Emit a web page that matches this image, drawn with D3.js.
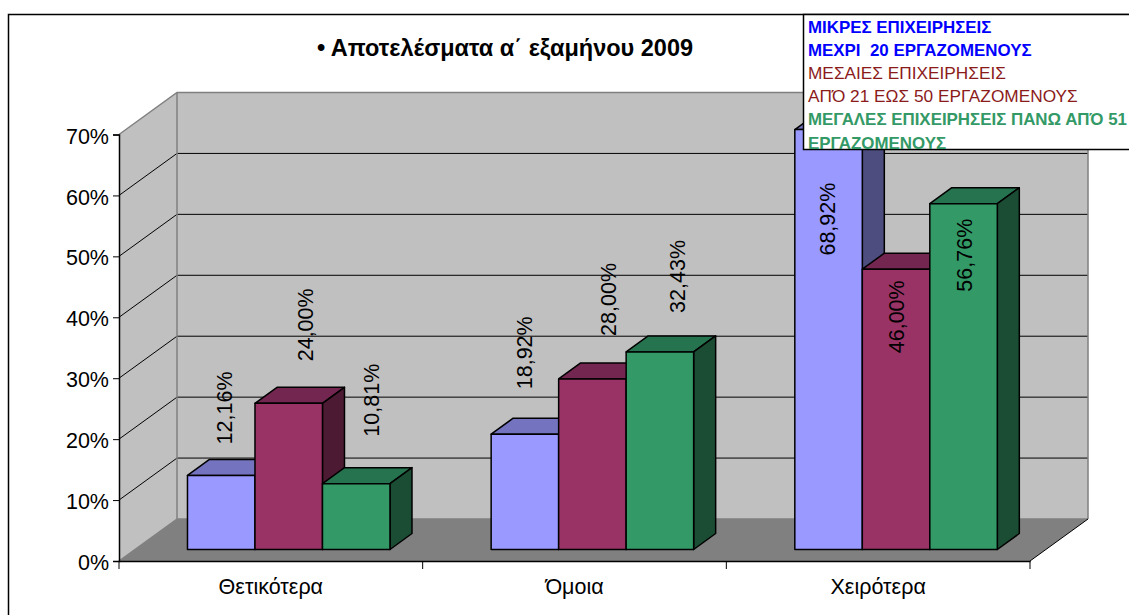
<!DOCTYPE html>
<html>
<head>
<meta charset="utf-8">
<script src="https://d3js.org/d3.v7.min.js"></script>
<style>
  html, body { margin: 0; padding: 0; background: #fff; }
  svg { display: block; }
  text { font-family: "Liberation Sans", Arial, sans-serif; fill: #000; }
</style>
</head>
<body>
<div id="chart"></div>
<script>
// data
var categories = ["Θετικότερα", "Όμοια", "Χειρότερα"];
var seriesNames = ["small", "medium", "large"];
var small = [12.16, 18.92, 68.92];
var medium = [24.00, 28.00, 46.00];
var large = [10.81, 32.43, 56.76];
var yTicks = [0, 10, 20, 30, 40, 50, 60, 70];
var chartTitle = "• Αποτελέσματα α΄ εξαμήνου 2009";
var legendLines = [
  "ΜΙΚΡΕΣ ΕΠΙΧΕΙΡΗΣΕΙΣ",
  "ΜΕΧΡΙ  20 ΕΡΓΑΖΟΜΕΝΟΥΣ",
  "ΜΕΣΑΙΕΣ ΕΠΙΧΕΙΡΗΣΕΙΣ",
  "ΑΠΌ 21 ΕΩΣ 50 ΕΡΓΑΖΟΜΕΝΟΥΣ",
  "ΜΕΓΑΛΕΣ ΕΠΙΧΕΙΡΗΣΕΙΣ ΠΑΝΩ ΑΠΌ 51",
  "ΕΡΓΑΖΟΜΕΝΟΥΣ"
];

// colours: front, top, side
var palette = {
  small: ["#9999ff", "#7373bf", "#4d4d80"],
  medium: ["#993366", "#732650", "#4d1a33"],
  large: ["#339966", "#267350", "#1a4d33"]
};
var legendStyle = [
  ["#0000ff", "bold"], ["#0000ff", "bold"],
  ["#8b1a1a", "normal"], ["#8b1a1a", "normal"],
  ["#339966", "bold"], ["#339966", "bold"]
];

var W = 1129, H = 615;
var depthX = 58, depthY = 42;     // floor depth
var barDX = 22, barDY = 16;       // bar depth
var barInsetY = 11.5;             // front of bars above the front floor edge
var barInsetX = 17.9;
var barW = 67.5;

// hand placed data labels in the original: dx from bar centre, gap above bar top
var labelNudge = [
  [[4, 31], [18, 42], [16, 47]],
  [[1, 45], [17, 43], [19, 39]],
  [[0, -126], [1, -84], [2, -88]]
];

var svg = d3.select("#chart").append("svg")
  .attr("width", W).attr("height", H);

// outer frame
svg.append("path")
  .attr("d", "M8.5," + H + "V14.5H" + W)
  .attr("fill", "none").attr("stroke", "#000").attr("stroke-width", 1.5);

var x = d3.scaleBand().domain(categories).range([119, 1030]);
var y = d3.scaleLinear().domain([0, 70]).range([561, 134.5]);
function barX(cat, s) {
  return x(cat) + barInsetX + (x.bandwidth() - 3 * barW) / 2 + seriesNames.indexOf(s) * barW;
}

var x0 = x.range()[0], x1 = x.range()[1];
var y0 = y(0), yTop = y(70);

// side wall
svg.append("polygon")
  .attr("points", [[x0, y0], [x0 + depthX, y0 - depthY], [x0 + depthX, yTop - depthY], [x0, yTop]].join(" "))
  .attr("fill", "#c0c0c0");
// back wall
svg.append("rect")
  .attr("x", x0 + depthX).attr("y", yTop - depthY)
  .attr("width", x1 - x0).attr("height", y0 - yTop)
  .attr("fill", "#c0c0c0");
// floor
svg.append("polygon")
  .attr("points", [[x0, y0], [x0 + depthX, y0 - depthY], [x1 + depthX, y0 - depthY], [x1, y0]].join(" "))
  .attr("fill", "#808080");

// gridlines
var grid = svg.append("g").attr("fill", "none").attr("stroke", "#000").attr("stroke-width", 1);
grid.selectAll("path").data(yTicks.slice(1, -1)).enter().append("path")
  .attr("d", function(d) {
    return "M" + x0 + "," + y(d) + "L" + (x0 + depthX) + "," + (y(d) - depthY) + "H" + (x1 + depthX);
  });

// wall edges
svg.append("path")
  .attr("d", "M" + x0 + "," + yTop + "L" + (x0 + depthX) + "," + (yTop - depthY) + "H" + (x1 + depthX) +
    "V" + (y0 - depthY) + "M" + (x0 + depthX) + "," + (yTop - depthY) + "V" + (y0 - depthY) +
    "H" + (x1 + depthX) + "M" + x0 + "," + y0 + "L" + (x0 + depthX) + "," + (y0 - depthY))
  .attr("fill", "none").attr("stroke", "#808080").attr("stroke-width", 1.5);
svg.append("path")
  .attr("d", "M" + x1 + "," + y0 + "L" + (x1 + depthX) + "," + (y0 - depthY))
  .attr("fill", "none").attr("stroke", "#000");

// bars
var values = {small: small, medium: medium, large: large};
var rows = [];
categories.forEach(function(c, i) {
  seriesNames.forEach(function(s, j) {
    rows.push({cat: c, s: s, i: i, j: j, v: values[s][i]});
  });
});

var bars = svg.selectAll("g.bar").data(rows).enter().append("g").attr("class", "bar")
  .attr("stroke", "#000").attr("stroke-width", 1.5).attr("stroke-linejoin", "round");

function barTop(d) { return y(d.v) - barInsetY; }
var barBottom = y0 - barInsetY;

bars.append("polygon")
  .attr("fill", function(d) { return palette[d.s][1]; })
  .attr("points", function(d) {
    var l = barX(d.cat, d.s), t = barTop(d);
    return [[l, t], [l + barDX, t - barDY], [l + barW + barDX, t - barDY], [l + barW, t]].join(" ");
  });
bars.append("polygon")
  .attr("fill", function(d) { return palette[d.s][2]; })
  .attr("points", function(d) {
    var r = barX(d.cat, d.s) + barW, t = barTop(d);
    return [[r, t], [r + barDX, t - barDY], [r + barDX, barBottom - barDY], [r, barBottom]].join(" ");
  });
bars.append("rect")
  .attr("fill", function(d) { return palette[d.s][0]; })
  .attr("x", function(d) { return barX(d.cat, d.s); })
  .attr("y", barTop)
  .attr("width", barW)
  .attr("height", function(d) { return barBottom - barTop(d); });

// data labels
svg.selectAll("text.val").data(rows).enter().append("text")
  .attr("class", "val")
  .attr("font-size", 21.5)
  .attr("transform", function(d) {
    var n = labelNudge[d.i][d.j];
    return "translate(" + (barX(d.cat, d.s) + barW / 2 + n[0] + 6.5) + "," + (barTop(d) - n[1]) + ")rotate(-90)";
  })
  .text(function(d) { return d.v.toFixed(2).replace(".", ",") + "%"; });

// axes
var yAxis = d3.axisLeft(y).tickValues(yTicks).tickSize(6).tickPadding(4)
  .tickFormat(function(d) { return d + "%"; });
var gy = svg.append("g").attr("transform", "translate(" + x0 + ",0)").call(yAxis);
gy.selectAll("text").attr("font-size", 21.5).attr("font-family", "Liberation Sans").attr("dy", "0.4em");

var xAxis = d3.axisBottom(x).tickSize(0).tickPadding(18);
var gx = svg.append("g").attr("transform", "translate(0," + y0 + ")").call(xAxis);
gx.selectAll("text").attr("font-size", 21.5).attr("font-family", "Liberation Sans");
gx.selectAll(".xedge").data(d3.range(categories.length + 1)).enter().append("line")
  .attr("stroke", "#000")
  .attr("x1", function(d) { return x0 + d * x.step(); })
  .attr("x2", function(d) { return x0 + d * x.step(); })
  .attr("y1", 0).attr("y2", 8);
svg.selectAll(".domain").attr("stroke-width", 1.5);

// title
svg.append("text")
  .attr("x", 505).attr("y", 56)
  .attr("text-anchor", "middle")
  .attr("font-size", 23.5).attr("font-weight", "bold")
  .text(chartTitle);

// legend box, the last line is cut off by its lower edge
svg.append("clipPath").attr("id", "legendClip").append("rect")
  .attr("x", 803).attr("y", 14).attr("width", 330).attr("height", 135.5);
svg.append("rect")
  .attr("x", 803.5).attr("y", 14.5).attr("width", 340).attr("height", 135)
  .attr("fill", "#fff").attr("stroke", "#000").attr("stroke-width", 1.5);
svg.append("g").attr("clip-path", "url(#legendClip)")
  .selectAll("text").data(legendLines).enter().append("text")
  .attr("x", 808)
  .attr("y", function(d, i) { return 32.5 + i * 23.2; })
  .attr("font-size", function(d, i) { return legendStyle[i][1] === "bold" ? 16.9 : 17.25; })
  .style("white-space", "pre")
  .style("fill", function(d, i) { return legendStyle[i][0]; })
  .attr("font-weight", function(d, i) { return legendStyle[i][1]; })
  .text(function(d) { return d; });
</script>
</body>
</html>
